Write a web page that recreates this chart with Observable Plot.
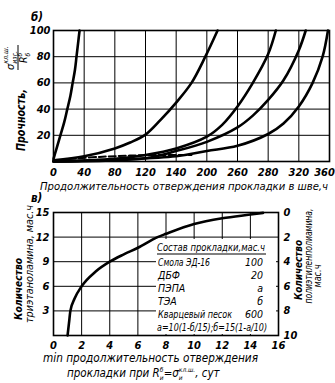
<!DOCTYPE html>
<html><head><meta charset="utf-8">
<script src="https://cdn.jsdelivr.net/npm/d3@7"></script>
<script src="https://cdn.jsdelivr.net/npm/@observablehq/plot@0.6"></script>
<style>
body{margin:0;background:#fff;}
#wrap{position:relative;width:335px;height:383px;overflow:hidden;background:#fff;color:#000;}
#wrap > svg{position:absolute;left:0;}
</style></head><body><div id="wrap"></div>
<script>
// ---------- data: upper chart (б) ----------
const topXTicks = [0, 40, 80, 120, 160, 200, 240, 280, 320, 360];
const topXTickLabels = ["0", "40", "80", "120", "140", "200", "260", "280", "320", "360"];
const topYTicks = [20, 40, 60, 80, 100];

const c1X = [0, 2, 5, 9, 14, 18, 22, 25, 28, 30, 32, 34];
const c1Y = [2, 6, 12, 20, 30, 40, 50, 60, 70, 80, 90, 100];
const c2X = [0, 40, 80, 100, 120, 140, 160, 180, 198, 214];
const c2Y = [1, 4, 10, 14.5, 20.5, 32, 45, 60, 80, 100];
const c3X = [0, 80, 120, 160, 200, 220, 240, 260, 280, 290];
const c3Y = [0, 2, 5, 10, 19, 28, 42, 60, 82, 100];
const c4X = [0, 120, 160, 200, 240, 260, 280, 300, 320, 329];
const c4Y = [0, 2.5, 8, 15, 26, 35, 47, 62, 85, 100];
const c5X = [0, 160, 200, 240, 280, 300, 320, 338, 351, 358];
const c5Y = [0, 4, 8, 12, 21, 29, 42, 60, 80, 100];
const dashX = [20, 60, 100, 140, 180];
const dashY = [2, 3.5, 4.5, 5, 5];

// ---------- data: lower chart (в) ----------
const botXTicks = [0, 2, 4, 6, 8, 10, 12, 14, 16];
const botXGrid = [2, 4, 6, 8, 10, 12, 14];
const botYTicks = [3, 6, 9, 12, 15];
const botYGrid = [3, 6, 9, 12];
const rightTicksA = [0, 2, 4, 6, 8, 10];
const teaX = [1.0, 1.1, 1.2, 1.5, 2, 3, 4, 5, 6, 7.4, 8, 10, 12, 14, 14.9];
const teaY = [0, 1.5, 3, 4.5, 6, 7.8, 9, 9.9, 10.7, 12, 12.4, 13.6, 14.3, 14.75, 14.95];

const tableNames = ["Смола ЭД-16", "ДБФ", "ПЭПА", "ТЭА", "Кварцевый песок"];
const tableValues = ["100", "20", "a", "б", "600"];

const FONT = "'DejaVu Sans Condensed','DejaVu Sans',sans-serif";
const pts = (xs, ys) => xs.map((x, i) => ({x, y: ys[i]}));
const wrap = document.getElementById("wrap");
const lineOpt = {x: "x", y: "y", curve: "catmull-rom", stroke: "#000", strokeWidth: 2.6};
const tickStyle = {tickSize: 0, label: null, fontWeight: "bold"};

const p1 = Plot.plot({
  width: 335, height: 190,
  marginLeft: 53, marginRight: 6, marginTop: 30, marginBottom: 29,
  style: {fontFamily: FONT, fontSize: "11px", fontStyle: "italic", overflow: "visible", background: "transparent"},
  x: {domain: [0, 360]},
  y: {domain: [0, 100]},
  marks: [
    Plot.gridX({ticks: topXTicks, stroke: "#000", strokeOpacity: 1, strokeWidth: 1}),
    Plot.gridY({ticks: topYTicks, stroke: "#000", strokeOpacity: 1, strokeWidth: 1}),
    Plot.line(pts(dashX, dashY), {...lineOpt, strokeWidth: 2, strokeDasharray: "7,3"}),
    Plot.line(pts(c1X, c1Y), lineOpt),
    Plot.line(pts(c2X, c2Y), lineOpt),
    Plot.line(pts(c3X, c3Y), lineOpt),
    Plot.line(pts(c4X, c4Y), lineOpt),
    Plot.line(pts(c5X, c5Y), lineOpt),
    Plot.frame({stroke: "#000", strokeWidth: 1.6}),
    Plot.axisX({...tickStyle, ticks: topXTicks.slice(0, -1), tickFormat: d => topXTickLabels[topXTicks.indexOf(d)], tickPadding: 7}),
    Plot.axisX({...tickStyle, ticks: topXTicks.slice(-1), tickFormat: d => topXTickLabels[topXTicks.indexOf(d)], tickPadding: 7, dx: -5}),
    Plot.axisY({...tickStyle, ticks: topYTicks, tickPadding: 3})
  ]
});
p1.style.top = "0px";
wrap.appendChild(p1);

const p2 = Plot.plot({
  width: 335, height: 193,
  marginLeft: 53, marginRight: 57, marginTop: 22, marginBottom: 48,
  style: {fontFamily: FONT, fontSize: "11px", fontStyle: "italic", overflow: "visible", background: "transparent"},
  x: {domain: [0, 16]},
  y: {domain: [0, 15]},
  marks: [
    Plot.gridX({ticks: botXGrid, stroke: "#000", strokeOpacity: 1, strokeWidth: 1}),
    Plot.gridY({ticks: botYGrid, stroke: "#000", strokeOpacity: 1, strokeWidth: 1}),
    Plot.line(pts(teaX, teaY), {...lineOpt, curve: "monotone-x"}),
    Plot.frame({stroke: "#000", strokeWidth: 1.6}),
    Plot.axisX({...tickStyle, ticks: botXTicks, tickPadding: 6}),
    Plot.axisY({...tickStyle, ticks: botYTicks, tickPadding: 4}),
    Plot.axisY({...tickStyle, anchor: "right", ticks: rightTicksA.map(a => 15 * (1 - a / 10)),
      tickFormat: d => String(Math.round(10 * (1 - d / 15))), tickPadding: 5})
  ]
});
p2.style.top = "190px";
wrap.appendChild(p2);

// ---------- overlay: titles, labels, table ----------
const ov = d3.create("svg").attr("width", 335).attr("height", 383)
  .style("position", "absolute").style("left", "0px").style("top", "0px")
  .attr("font-family", FONT).attr("font-style", "italic").attr("fill", "#000");
wrap.appendChild(ov.node());

function txt(parent, x, y, s, size, opts = {}) {
  const t = parent.append("text").attr("x", x).attr("y", y).attr("font-size", size).text(s);
  if (opts.anchor) t.attr("text-anchor", opts.anchor);
  if (opts.len) t.attr("textLength", opts.len).attr("lengthAdjust", "spacingAndGlyphs");
  if (opts.weight) t.attr("font-weight", opts.weight);
  return t;
}
// one text element with tspans for sub/superscripts; items: {t,size,shift,stack}
function runs(parent, x, y, items) {
  const t = parent.append("text").attr("x", x).attr("y", y);
  let cur = 0, prevW = 0, pending = 0;
  for (const it of items) {
    const sh = it.shift || 0;
    const sp = t.append("tspan").attr("font-size", it.size).attr("dy", sh - cur).text(it.t);
    cur = sh;
    if (it.stack) sp.attr("dx", -prevW);
    else if (pending > 0) sp.attr("dx", pending);
    const w = sp.node().getComputedTextLength();
    pending = it.stack ? Math.max(0, prevW - w) : 0;
    prevW = w;
  }
  return t;
}
function rot(x, y) { return ov.append("g").attr("transform", `translate(${x},${y}) rotate(-90)`); }

txt(ov, 31, 21, "б)", 11.5, {weight: "bold"});
txt(ov, 31, 202, "в)", 11.5, {weight: "bold"});
txt(ov, 40, 190, "Продолжительность отверждения прокладки в шве,ч", 11, {len: 288});

// upper y label
txt(rot(25, 151), 0, 0, "Прочность,", 11.5, {len: 62, weight: "bold"});
{
  const g = rot(0, 57);
  runs(g, -13, 14, [{t: "σ", size: 11}, {t: "кл.ш.", size: 7, shift: -6}, {t: "изг.", size: 7, shift: 3, stack: true}]);
  g.append("line").attr("x1", -13).attr("x2", 12).attr("y1", 18).attr("y2", 18).attr("stroke", "#000").attr("stroke-width", 1);
  runs(g, -6, 27, [{t: "R", size: 10.5}, {t: "б", size: 6.5, shift: -5}, {t: "б", size: 6.5, shift: 3, stack: true}]);
}

// lower left label
txt(rot(22, 289), 0, 0, "Количество", 11, {anchor: "middle", len: 62, weight: "bold"});
txt(rot(33, 264), 0, 0, "триэтаноламина, мас.ч", 11, {anchor: "middle", len: 118});

// right label
txt(rot(302, 270), 0, 0, "Количество", 11, {anchor: "middle", len: 60, weight: "bold"});
txt(rot(312, 256), 0, 0, "полиэтиленполиамина,", 10.5, {anchor: "middle", len: 95});
txt(rot(321, 276), 0, 0, "мас.ч", 10.5, {anchor: "middle", len: 23});

// bottom titles
txt(ov, 43, 362, "min продолжительность отверждения", 11.5, {len: 215});
runs(ov, 67, 377, [
  {t: "прокладки  при  R", size: 11.5},
  {t: "б", size: 6.5, shift: -5}, {t: "и", size: 6.5, shift: 3, stack: true},
  {t: "=σ", size: 11.5},
  {t: "кл.ш.", size: 6.5, shift: -5}, {t: "и", size: 6.5, shift: 3, stack: true},
  {t: ",  сут", size: 11.5}
]);

// table (inset)
ov.append("rect").attr("x", 156).attr("y", 239).attr("width", 120).attr("height", 95).attr("fill", "#fff");
txt(ov, 157, 251, "Состав прокладки,мас.ч", 10.5, {len: 108});
ov.append("line").attr("x1", 157).attr("x2", 266).attr("y1", 254).attr("y2", 254).attr("stroke", "#000").attr("stroke-width", 1);
const rowY = [266, 279, 292, 305, 318];
const nameLen = [52, null, null, null, 74];
tableNames.forEach((n, i) => {
  txt(ov, 158, rowY[i], n, 10.5, nameLen[i] ? {len: nameLen[i]} : {});
  txt(ov, 263, rowY[i], tableValues[i], 10.5, {anchor: "end"});
});
txt(ov, 157, 331, "a=10(1-б/15);б=15(1-a/10)", 10.5, {len: 110});
</script></body></html>
